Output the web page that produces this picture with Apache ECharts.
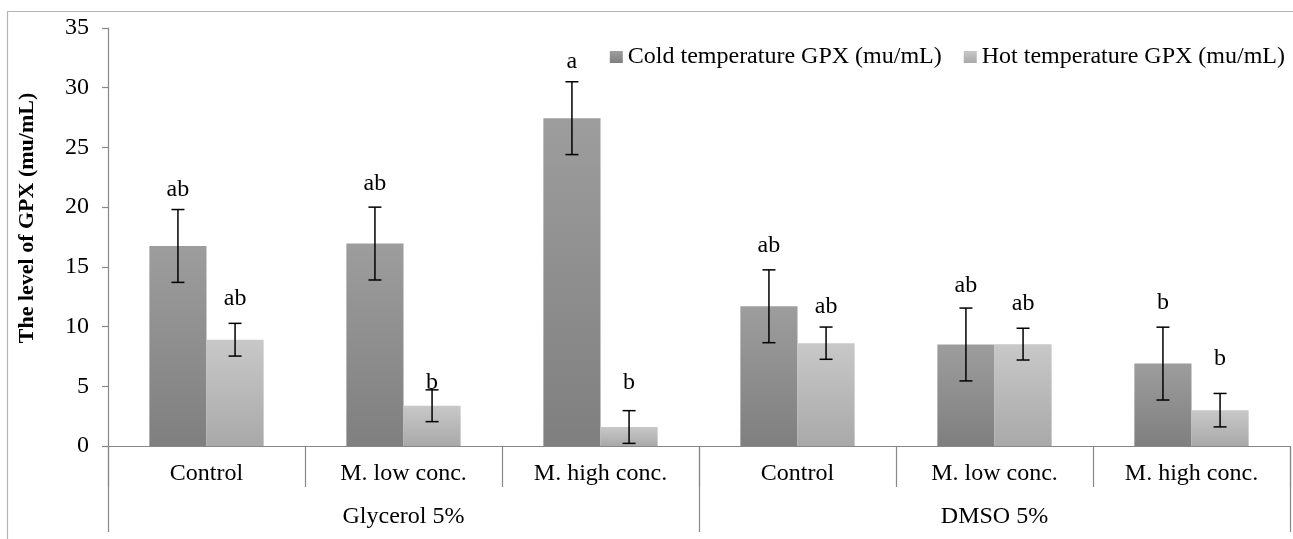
<!DOCTYPE html>
<html>
<head>
<meta charset="utf-8">
<script src="https://cdn.jsdelivr.net/npm/echarts@6/dist/echarts.min.js"></script>
<style>
  html, body { margin: 0; padding: 0; background: #fff; }
  #chart { width: 1293px; height: 539px; }
</style>
</head>
<body>
<div id="chart"></div>
<script>
// categories on the lower axis, groups on the second row
const categories = ['Control', 'M. low conc.', 'M. high conc.', 'Control', 'M. low conc.', 'M. high conc.']
const groups = ['Glycerol 5%', 'DMSO 5%']

// cold temperature GPX
const coldValues = [16.75, 16.95, 27.45, 11.7, 8.5, 6.9]
const coldErrors = [3.05, 3.05, 3.05, 3.05, 3.05, 3.05]
const coldLetters = ['ab', 'ab', 'a', 'ab', 'ab', 'b']
const coldLetterAt = [21.5, 22.0, 32.2, 16.8, 13.4, 12.0]

// hot temperature GPX
const hotValues = [8.9, 3.37, 1.59, 8.61, 8.53, 3.0]
const hotErrors = [1.37, 1.33, 1.37, 1.35, 1.33, 1.4]
const hotLetters = ['ab', 'b', 'b', 'ab', 'ab', 'b']
const hotLetterAt = [12.3, 5.3, 5.3, 11.7, 11.95, 7.3]

const yTicks = { min: 0, max: 35, interval: 5 }

const FONT = 'Liberation Serif'
const GRAY = '#888888'
const SIZE = 24

function gradient (top, bottom) {
  return new echarts.graphic.LinearGradient(0, 0, 0, 1, [
    { offset: 0, color: top },
    { offset: 1, color: bottom }
  ])
}

// error bar + significance letter, shifted onto the left (-1) or right (+1) bar
function errorBars (side, letters) {
  return function (params, api) {
    const i = api.value(0)
    const v = api.value(1)
    const e = api.value(2)
    const catW = api.size([1, 0])[0]
    const x = api.coord([i, v])[0] + side * catW * 0.145
    const yTop = api.coord([i, v + e])[1]
    const yBot = api.coord([i, v - e])[1]
    const yLetter = api.coord([i, api.value(3)])[1]
    const cap = 6.5
    const style = { stroke: '#000', lineWidth: 1.5 }
    return {
      type: 'group',
      children: [
        { type: 'line', shape: { x1: x, y1: yTop, x2: x, y2: yBot }, style: style },
        { type: 'line', shape: { x1: x - cap, y1: yTop, x2: x + cap, y2: yTop }, style: style },
        { type: 'line', shape: { x1: x - cap, y1: yBot, x2: x + cap, y2: yBot }, style: style },
        {
          type: 'text',
          style: {
            x: x,
            y: yLetter,
            text: letters[params.dataIndex],
            fill: '#000',
            font: SIZE + 'px "' + FONT + '"',
            align: 'center',
            verticalAlign: 'middle'
          }
        }
      ]
    }
  }
}

const chart = echarts.init(document.getElementById('chart'))
chart.setOption({
  animation: false,
  backgroundColor: '#fff',
  textStyle: { fontFamily: FONT, color: '#000' },
  grid: { left: 108, right: 3, top: 28, bottom: 93 },
  graphic: [
    {
      type: 'rect',
      shape: { x: 7.5, y: 11.5, width: 1400, height: 600 },
      style: { fill: 'none', stroke: '#b4b4b4', lineWidth: 1.2 },
      silent: true
    },
    {
      type: 'text',
      x: 27,
      y: 218,
      rotation: Math.PI / 2,
      style: {
        text: 'The level of GPX (mu/mL)',
        font: 'bold 22px "' + FONT + '"',
        fill: '#000',
        align: 'center',
        verticalAlign: 'middle'
      }
    }
  ],
  legend: {
    right: 3,
    top: 40,
    itemWidth: 13,
    itemHeight: 12,
    itemGap: 22,
    icon: 'rect',
    textStyle: { fontSize: SIZE, fontFamily: FONT, color: '#000' },
    data: ['Cold temperature GPX (mu/mL)', 'Hot temperature GPX (mu/mL)']
  },
  xAxis: [
    {
      type: 'category',
      data: categories,
      position: 'bottom',
      axisLine: { show: true, lineStyle: { color: GRAY, width: 1.2 } },
      axisTick: { show: true, length: 41, interval: 0, lineStyle: { color: GRAY, width: 1.2 } },
      axisLabel: { interval: 0, margin: 16, fontSize: SIZE, fontFamily: FONT, color: '#000' }
    },
    {
      type: 'category',
      data: groups,
      position: 'bottom',
      axisLine: { show: false },
      axisTick: { show: true, length: 86, interval: 0, lineStyle: { color: GRAY, width: 1.2 } },
      axisLabel: { interval: 0, margin: 59, fontSize: SIZE, fontFamily: FONT, color: '#000' }
    }
  ],
  yAxis: {
    type: 'value',
    min: yTicks.min,
    max: yTicks.max,
    interval: yTicks.interval,
    splitLine: { show: false },
    axisLine: { show: true, lineStyle: { color: GRAY, width: 1.2 } },
    axisTick: { show: true, length: 6, lineStyle: { color: GRAY, width: 1.2 } },
    axisLabel: { margin: 19, fontSize: SIZE, fontFamily: FONT, color: '#000' }
  },
  series: [
    {
      name: 'Cold temperature GPX (mu/mL)',
      type: 'bar',
      data: coldValues,
      barGap: '0%',
      barCategoryGap: '42%',
      itemStyle: { color: gradient('#9d9d9d', '#7f7f7f') }
    },
    {
      name: 'Hot temperature GPX (mu/mL)',
      type: 'bar',
      data: hotValues,
      barGap: '0%',
      barCategoryGap: '42%',
      itemStyle: { color: gradient('#c8c8c8', '#a9a9a9') }
    },
    {
      type: 'custom',
      renderItem: errorBars(-1, coldLetters),
      data: coldValues.map((v, i) => [i, v, coldErrors[i], coldLetterAt[i]]),
      z: 10
    },
    {
      type: 'custom',
      renderItem: errorBars(1, hotLetters),
      data: hotValues.map((v, i) => [i, v, hotErrors[i], hotLetterAt[i]]),
      z: 10
    }
  ]
})
</script>
</body>
</html>
